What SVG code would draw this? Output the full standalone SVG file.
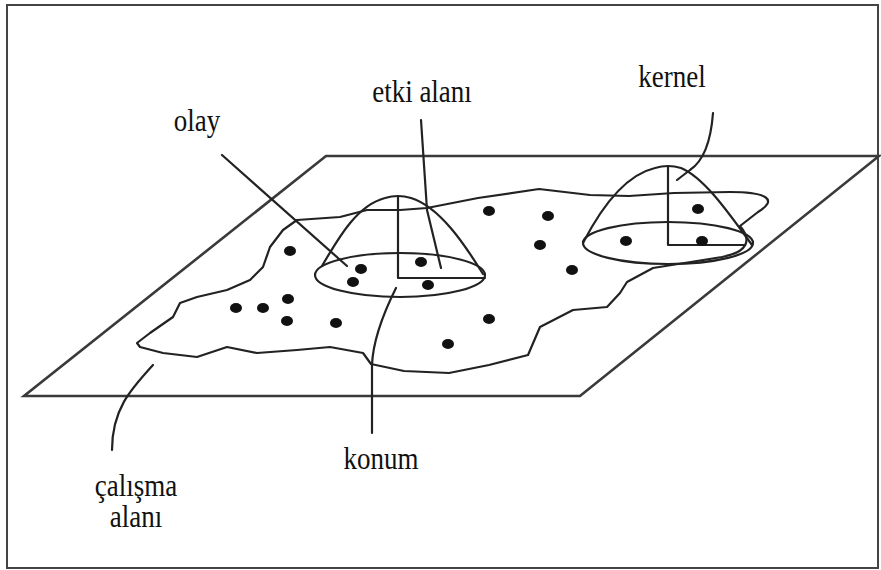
<svg xmlns="http://www.w3.org/2000/svg" width="881" height="570" viewBox="0 0 881 570">
<style>
.ln{fill:none;stroke:#222;stroke-width:2.2;stroke-linejoin:round;stroke-linecap:round}
.pl{fill:none;stroke:#3a3a3a;stroke-width:2.6;stroke-linejoin:miter}
.dot{fill:#111}
.lbl{font-size:27px;fill:#111;text-anchor:middle}
</style>
<rect x="0" y="0" width="881" height="570" fill="#fff"/>
<rect id="frame" x="7" y="5" width="871" height="563" fill="none" stroke="#444" stroke-width="2"/>
<g id="plane">
<polygon class="pl" points="326,156 879,156 580,396 24,396"/>
</g>
<g id="study-area">
<path class="ln" d="M137,343 L150,333 L173,317 L180,303 L197,297 L227,290 L250,280 L263,267 L270,247 L283,230 L297,220 L340,217 L367,210 L400,210 L427,208 L478,198 L539,189 L590,195 L629,196 L674,193 L730,192 C768,192 778,200 758,212 L740,226 C752,240 748,252 722,257 L653,268 L627,282 L620,293 L607,307 L573,310 L540,327 L528,355 L489,365 L449,373 L404,371 L371,364 L363,353 L330,347 L297,350 L257,353 L227,347 L197,357 L163,353 L140,347 Z"/>
</g>
<g id="cone-etki">
<ellipse class="ln" cx="400" cy="275" rx="85" ry="22"/>
<path class="ln" d="M322,266 C340,235 358,205 385,198 Q398,194 411,198 C440,207 465,245 483,274"/>
<path class="ln" d="M398,197 L398,278 L485,278"/>
</g>
<g id="cone-kernel">
<ellipse class="ln" cx="668" cy="243" rx="85" ry="21"/>
<path class="ln" d="M583,243 C600,210 625,175 655,168 Q668,164 681,168 C705,178 730,215 752,245"/>
<path class="ln" d="M668,167 L668,245 L744,245"/>
</g>
<g id="events">
<ellipse class="dot" cx="489" cy="211" rx="6" ry="5"/>
<ellipse class="dot" cx="548" cy="216" rx="6" ry="5"/>
<ellipse class="dot" cx="540" cy="245" rx="6" ry="5"/>
<ellipse class="dot" cx="572" cy="270" rx="6" ry="5"/>
<ellipse class="dot" cx="290" cy="251" rx="6" ry="5"/>
<ellipse class="dot" cx="361" cy="269" rx="6" ry="5"/>
<ellipse class="dot" cx="353" cy="282" rx="6" ry="5"/>
<ellipse class="dot" cx="421" cy="262" rx="6" ry="5"/>
<ellipse class="dot" cx="428" cy="285" rx="6" ry="5"/>
<ellipse class="dot" cx="236" cy="308" rx="6" ry="5"/>
<ellipse class="dot" cx="263" cy="308" rx="6" ry="5"/>
<ellipse class="dot" cx="288" cy="299" rx="6" ry="5"/>
<ellipse class="dot" cx="287" cy="321" rx="6" ry="5"/>
<ellipse class="dot" cx="336" cy="323" rx="6" ry="5"/>
<ellipse class="dot" cx="489" cy="319" rx="6" ry="5"/>
<ellipse class="dot" cx="448" cy="344" rx="6" ry="5"/>
<ellipse class="dot" cx="626" cy="241" rx="6" ry="5"/>
<ellipse class="dot" cx="698" cy="209" rx="6" ry="5"/>
<ellipse class="dot" cx="702" cy="241" rx="6" ry="5"/>
</g>
<g id="connectors">
<path class="ln" d="M222,155 L347,266"/>
<path class="ln" d="M421,120 L427,210 L441,268"/>
<path class="ln" d="M713,113 C711,140 705,160 690,170 L677,180"/>
<path class="ln" d="M396,288 C385,310 373,340 372,365 L372,433"/>
<path class="ln" d="M153,365 C130,390 112,410 112,450"/>
</g>
<g id="labels" font-family="'Liberation Serif', 'DejaVu Serif', serif">
<text class="lbl" transform="translate(197,131) scale(1,1.15)">olay</text>
<text class="lbl" transform="translate(422,102) scale(1,1.15)">etki alanı</text>
<text class="lbl" transform="translate(672,87) scale(1,1.15)">kernel</text>
<text class="lbl" transform="translate(381,469) scale(1,1.15)">konum</text>
<text class="lbl" transform="translate(136,496) scale(1,1.15)">çalışma</text>
<text class="lbl" transform="translate(136,527) scale(1,1.15)">alanı</text>
</g>
</svg>
